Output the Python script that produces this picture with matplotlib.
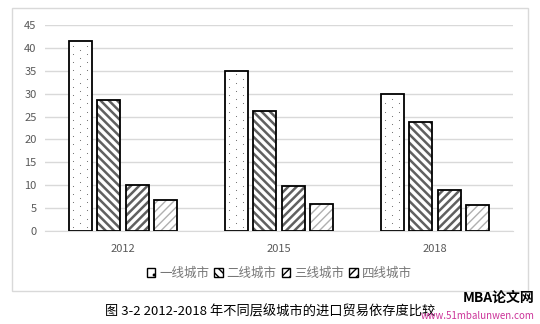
import numpy as np
import matplotlib.pyplot as plt
from matplotlib.patches import Rectangle

plt.rcParams['font.family'] = ['Noto Sans CJK SC', 'DejaVu Sans']

years = ['2012', '2015', '2018']
series = ['一线城市', '二线城市', '三线城市', '四线城市']
tier1 = [41.4, 34.9, 30.0]
tier2 = [28.6, 26.2, 23.9]
tier3 = [10.1, 9.9, 8.9]
tier4 = [6.8, 5.8, 5.7]
values = [tier1, tier2, tier3, tier4]

hatches = [None, '\\\\\\\\', '////', '////']
hatch_cols = ['#777777', '#606060', '#606060', '#b0b0b0']
hatch_lws = [1.0, 1.8, 1.8, 1.0]

fig = plt.figure(figsize=(5.4, 3.24), dpi=100)
# rahmen rundt diagrammet
fig.patches.append(Rectangle((12 / 540, 1 - 291 / 324), 516 / 540, 283 / 324,
                             transform=fig.transFigure, fill=False,
                             edgecolor='#d9d9d9', linewidth=1))

ax = fig.add_axes([45 / 540, 1 - 231 / 324, 468 / 540, 206 / 324])

x = np.arange(len(years))
w = 0.147
step = 0.183
for i, vals in enumerate(values):
    pos = x + (i - 1.5) * step
    plt.rcParams['hatch.linewidth'] = hatch_lws[i]
    ax.bar(pos, vals, w, color='white', edgecolor=hatch_cols[i], hatch=hatches[i],
           linewidth=0, zorder=2)
    ax.bar(pos, vals, w, fill=False, edgecolor='black', linewidth=1.3, zorder=4,
           label=series[i])
    if i == 0:
        # prikkmønster for første serie
        for p, v in zip(pos, vals):
            for k, off in enumerate([-0.045, 0.0, 0.045]):
                ys = np.arange(0.9 + (k % 2) * 0.9, v - 0.3, 1.8)
                ax.scatter(np.full(len(ys), p + off), ys, s=0.6, color='#666666',
                           linewidths=0, zorder=3)

ax.set_xlim(-0.5, 2.5)
ax.set_ylim(0, 45)
ax.set_yticks(range(0, 46, 5))
ax.set_xticks(x)
ax.set_xticklabels(years)
ax.yaxis.grid(True, color='#d9d9d9', linewidth=1, zorder=0)
ax.set_axisbelow(True)
for s in ['top', 'right', 'left']:
    ax.spines[s].set_visible(False)
ax.spines['bottom'].set_color('#d9d9d9')
ax.tick_params(length=0, labelsize=8, colors='#595959', pad=6)
ax.tick_params(axis='x', pad=9)

# legend
plt.rcParams['hatch.linewidth'] = 1.0
handles = []
for i in range(4):
    handles.append(Rectangle((0, 0), 1, 1, facecolor='white', edgecolor='black',
                             hatch=hatches[i] if i else '..', linewidth=1))
ax.legend(handles, series, loc='upper center', bbox_to_anchor=(0.5, -0.12),
          ncol=4, frameon=False, fontsize=9, labelcolor='#767676',
          handlelength=0.7, handleheight=0.7, handletextpad=0.3, columnspacing=0.4)

fig.text(0.5, 1 - 312 / 324, '图 3-2 2012-2018 年不同层级城市的进口贸易依存度比较',
         ha='center', va='center', fontsize=9.5, color='black')
fig.text(0.99, 1 - 298 / 324, 'MBA论文网', ha='right', va='center', fontsize=10,
         fontweight='bold', style='italic', color='black')
fig.text(0.99, 1 - 316 / 324, 'www.51mbalunwen.com', ha='right', va='center',
         fontsize=7, style='italic', color='#cc3399')

fig.savefig('out.png', dpi=100)
